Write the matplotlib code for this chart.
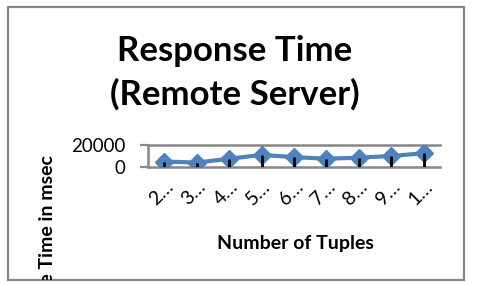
import matplotlib
matplotlib.use("Agg")
import matplotlib.pyplot as plt
from matplotlib.patches import Rectangle

# Data
categories = ["2…", "3…", "4…", "5…", "6…", "7…", "8…", "9…", "1…"]
response_ms = [5000, 4000, 7500, 11000, 9000, 7500, 8500, 10000, 12500]
y_ticks = [0, 20000]

title = "Response Time\n(Remote Server)"
x_label = "Number of Tuples"
y_label = "Response Time in msec"

W, H = 478, 285
fig = plt.figure(figsize=(W / 100, H / 100), dpi=100)
fig.patch.set_facecolor("white")

font = "Lato"
grey = "#878787"
blue = "#4f81bd"

# Chart frame
frame = Rectangle((8 / W, 1 - 280 / H), 456 / W, 273 / H, transform=fig.transFigure,
                  fill=False, edgecolor=grey, linewidth=1.6)
fig.patches.append(frame)

ax = fig.add_axes([148 / W, 1 - 167 / H, 292 / W, 22 / H])
x = list(range(len(categories)))
ax.plot(x, response_ms, color=blue, linewidth=3, marker="D", markersize=9,
        markerfacecolor=blue, markeredgecolor=blue, zorder=3)
ax.vlines(x, 0, response_ms, color="black", linewidth=2, zorder=4)

ax.set_xlim(-0.5, len(categories) - 0.5)
ax.set_ylim(0, 20000)
ax.set_yticks(y_ticks)
ax.set_yticklabels([str(v) for v in y_ticks], fontsize=13.5, family=font)
ax.set_xticks(x)
ax.set_xticklabels(categories, rotation=45, ha="right", va="top", rotation_mode="anchor",
                   fontsize=14, family=font)
ax.tick_params(axis="x", length=0, pad=8)
ax.tick_params(axis="y", length=6, width=1.6, color=grey, pad=10)
for side in ["left", "top", "bottom"]:
    ax.spines[side].set_color(grey)
    ax.spines[side].set_linewidth(1.8)
ax.spines["right"].set_visible(False)
ax.set_facecolor("none")

fig.text(235 / W, 1 - 73 / H, title, ha="center", va="center", fontsize=25,
         fontweight="bold", family=font, linespacing=1.4)
fig.text(295 / W, 1 - 243 / H, x_label, ha="center", va="center", fontsize=14,
         fontweight="bold", family=font)

ylab = fig.text(48 / W, 1 - 155 / H, y_label, ha="center", va="top", rotation=90,
                fontsize=14, fontweight="bold", family=font)
ylab.set_clip_path(frame)

fig.savefig("out.png", dpi=100)
